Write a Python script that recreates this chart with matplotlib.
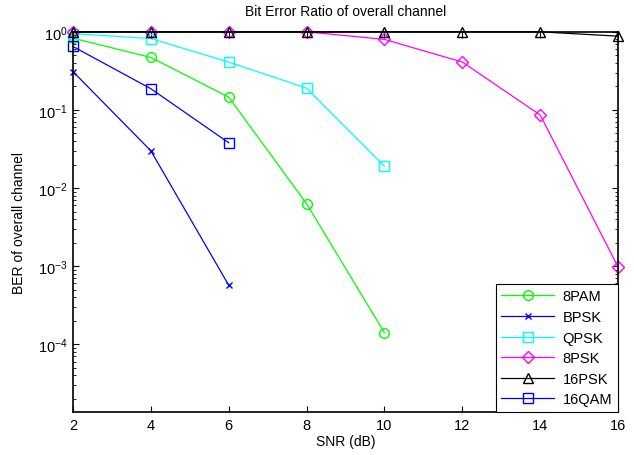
import matplotlib
matplotlib.use("Agg")
import matplotlib.pyplot as plt
from matplotlib.ticker import LogLocator, NullFormatter, FixedLocator

plt.rcParams['font.family'] = ['Liberation Sans', 'DejaVu Sans']
plt.rcParams['mathtext.fontset'] = 'custom'
plt.rcParams['mathtext.rm'] = 'Liberation Sans'
plt.rcParams['mathtext.it'] = 'Liberation Sans'
plt.rcParams['mathtext.default'] = 'regular'
plt.rcParams['axes.unicode_minus'] = False

snr = [2, 4, 6, 8, 10, 12, 14, 16]

ber_8pam = [0.83, 0.47, 0.146, 0.0063, 1.4e-4]
ber_bpsk = [0.31, 0.030, 5.7e-4]
ber_qpsk = [0.95, 0.82, 0.41, 0.19, 0.019]
ber_8psk = [1.0, 1.0, 1.0, 1.0, 0.80, 0.41, 0.086, 9.7e-4]
ber_16psk = [1.0, 1.0, 1.0, 1.0, 1.0, 1.0, 1.0, 0.88]
ber_16qam = [0.65, 0.187, 0.038]

fig = plt.figure(figsize=(6.34, 4.56), dpi=100)
ax = fig.add_axes([0.115, 0.094, 0.86, 0.834])

lw = 0.9
ms = 7
common = dict(lw=lw, clip_on=False)
ax.semilogy(snr[:len(ber_8pam)], ber_8pam, '-o', color='#00ff00', ms=ms, mfc='none', label='8PAM', **common)
ax.semilogy(snr[:len(ber_bpsk)], ber_bpsk, '-x', color='#0000ff', ms=4, label='BPSK', **common)
ax.semilogy(snr[:len(ber_qpsk)], ber_qpsk, '-s', color='#00ffff', ms=ms, mfc='none', label='QPSK', **common)
ax.semilogy(snr[:len(ber_8psk)], ber_8psk, '-D', color='#ff00ff', ms=6, mfc='none', label='8PSK', **common)
ax.semilogy(snr[:len(ber_16psk)], ber_16psk, '-^', color='#000000', ms=ms, mfc='none', label='16PSK', **common)
ax.semilogy(snr[:len(ber_16qam)], ber_16qam, '-s', color='#0000ff', ms=ms, mfc='none', label='16QAM', **common)

ax.set_xlim(2, 16)
ax.set_ylim(10 ** -4.87, 1)
ax.xaxis.set_major_locator(FixedLocator(snr))
ax.yaxis.set_major_locator(LogLocator(base=10, numticks=10))
ax.yaxis.set_minor_locator(LogLocator(base=10, subs=range(2, 10), numticks=20))
ax.yaxis.set_minor_formatter(NullFormatter())
ax.tick_params(which='both', direction='in', top=True, right=True, labelsize=10.5)
ax.tick_params(which='major', length=4, pad=4)
ax.tick_params(which='minor', length=2)
for s in ax.spines.values():
    s.set_linewidth(1.2)

ax.set_title('Bit Error Ratio of overall channel', fontsize=10, pad=12)
ax.set_xlabel('SNR (dB)', fontsize=10, labelpad=2)
ax.set_ylabel('BER of overall channel', fontsize=10, labelpad=8)

leg = ax.legend(loc='lower right', fontsize=10.5, fancybox=False, framealpha=1,
                edgecolor='black', borderaxespad=0.0, handlelength=3.6,
                labelspacing=0.45, borderpad=0.4, handletextpad=0.6)
leg.get_frame().set_linewidth(0.8)

fig.savefig('out.png', dpi=100)
